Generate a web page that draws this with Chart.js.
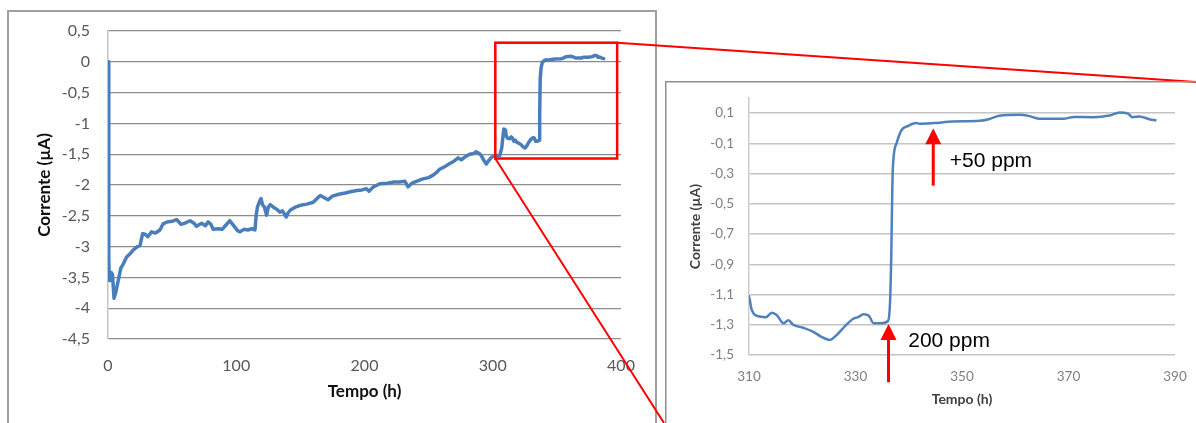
<!DOCTYPE html>
<html>
<head>
<meta charset="utf-8">
<script src="https://cdn.jsdelivr.net/npm/chart.js@4"></script>
<style>
  html, body { margin: 0; padding: 0; background: #fff; }
  #pagina { position: relative; width: 1196px; height: 423px; overflow: hidden; background: #fff; }
  #caixaGeral { position: absolute; left: 0; top: 0; width: 1196px; height: 423px; }
  #caixaZoom { position: absolute; left: 665px; top: 81px; width: 531px; height: 342px; }
</style>
</head>
<body>
<div id="pagina">
  <div id="caixaGeral"><canvas id="geral"></canvas></div>
  <div id="caixaZoom"><canvas id="zoom"></canvas></div>
</div>
<script>
// ## dados ##########################################################
const tempo = [
  0, 0.6, 1.0, 1.8, 2.5, 3.5, 4.7, 6, 8, 10, 12, 14.5, 17, 20, 23, 25, 27, 29, 31, 34,
  37, 40.5, 43, 46, 50, 53.5, 57, 60, 64, 67, 69, 73, 76, 78, 80, 82, 86, 89, 92, 95,
  98, 101, 103, 106, 109, 112, 114.6, 115.5, 116.5, 118.5, 119.3, 120.5, 122, 123.7, 125, 126.5, 129, 132, 134, 136,
  139, 140.5, 142, 146, 150, 155, 160, 163, 165.5, 168, 171.5, 175, 180, 185, 189, 194, 198, 201.5, 203.5, 207,
  212, 218, 223, 227.5, 231.5, 234, 237, 242, 245.5, 250, 253.5, 256, 258.8, 262, 266.5, 270, 273, 275.5, 278, 282,
  285, 287, 289.5, 291, 293, 295, 297, 299, 301.6, 305.5, 307, 308.6, 309.5, 310, 310.5, 311.4, 313.2, 314.3, 315.2, 316.5,
  317.4, 318.3, 320.2, 322, 323.6, 325.2, 326.4, 328, 329.6, 330.5, 331.5, 332.5, 333.4, 334.7, 336.1, 336.5, 336.7, 337, 337.7, 338.6,
  339.9, 341.4, 342, 344.6, 348.3, 353.3, 355, 357, 360.8, 362.7, 364.6, 369, 371, 374.6, 377.7, 379.6, 381.2, 382, 383.3, 385.2,
  386.5
];
const corrente = [
  0, -3.2, -3.55, -3.55, -3.42, -3.45, -3.84, -3.75, -3.55, -3.35, -3.28, -3.17, -3.12, -3.05, -3.0, -2.98, -2.79, -2.8, -2.84, -2.76,
  -2.78, -2.73, -2.63, -2.6, -2.59, -2.56, -2.64, -2.62, -2.58, -2.62, -2.67, -2.62, -2.66, -2.6, -2.63, -2.72, -2.71, -2.72, -2.65, -2.58,
  -2.66, -2.74, -2.76, -2.72, -2.73, -2.71, -2.73, -2.5, -2.36, -2.25, -2.22, -2.32, -2.36, -2.49, -2.36, -2.32, -2.36, -2.4, -2.44, -2.42,
  -2.52, -2.45, -2.41, -2.36, -2.33, -2.31, -2.28, -2.22, -2.17, -2.2, -2.24, -2.18, -2.15, -2.13, -2.11, -2.09, -2.08, -2.06, -2.1, -2.03,
  -1.98, -1.97, -1.95, -1.95, -1.94, -2.03, -1.97, -1.93, -1.9, -1.88, -1.84, -1.8, -1.74, -1.71, -1.65, -1.61, -1.56, -1.59, -1.55, -1.5,
  -1.49, -1.46, -1.49, -1.52, -1.6, -1.66, -1.6, -1.55, -1.52, -1.52, -1.4, -1.09, -1.1, -1.115, -1.2, -1.24, -1.25, -1.22, -1.235, -1.29,
  -1.27, -1.3, -1.32, -1.345, -1.38, -1.4, -1.37, -1.31, -1.26, -1.25, -1.23, -1.24, -1.29, -1.29, -1.275, -1.14, -0.87, -0.275, -0.1, -0.015,
  0.016, 0.034, 0.03, 0.034, 0.044, 0.049, 0.06, 0.082, 0.089, 0.08, 0.062, 0.062, 0.075, 0.073, 0.084, 0.104, 0.097, 0.073, 0.078, 0.06,
  0.051
];

// ticks
const ticksTempoGeral = [0, 100, 200, 300, 400];
const ticksCorrenteGeral = [0.5, 0, -0.5, -1, -1.5, -2, -2.5, -3, -3.5, -4, -4.5];
const ticksTempoZoom = [310, 330, 350, 370, 390];
const ticksCorrenteZoom = [0.1, -0.1, -0.3, -0.5, -0.7, -0.9, -1.1, -1.3, -1.5];

// retangulo vermelho no grafico geral (tempo, corrente)
const zonaTempo = [302, 397];
const zonaCorrente = [0.31, -1.57];

// setas + textos no zoom
const setaTempo = [336.2, 344.6];
const setaPonta = [-1.295, 0.0];
const setaBase = [-1.68, -0.38];
const rotuloTexto = ['200 ppm', '+50 ppm'];
const rotuloTempo = [339.9, 347.7];
const rotuloCorrente = [-1.445, -0.258];

// ## utilidades #####################################################
const AZUL = '#4a7ebb';
const VERMELHO = '#ff0000';
Chart.defaults.font.family = 'Lato, "Noto Sans", sans-serif';

/** 0.5 -> "0,5" */
function fmtPT(v) {
  const n = Math.round(v * 10) / 10;
  return String(n).replace('.', ',');
}

function pontos(filtro) {
  const out = [];
  tempo.forEach((t, i) => { if (!filtro || filtro(t)) out.push({ x: t, y: corrente[i] }); });
  return out;
}

/** fixa largura/altura de um eixo e tira o padding automatico */
function fixa(tam) {
  return function (scale) {
    if (scale.isHorizontal()) scale.height = tam; else scale.width = tam;
    scale.paddingLeft = scale.paddingRight = scale.paddingTop = scale.paddingBottom = 0;
  };
}

function usaTicks(lista) {
  return function (scale) { scale.ticks = lista.map(v => ({ value: v })); };
}

// ## plugins ########################################################
const geralExtras = {
  id: 'geralExtras',
  beforeDraw(chart) {
    const c = chart.ctx;
    c.save();
    c.strokeStyle = '#a0a0a0';
    c.lineWidth = 2;
    c.strokeRect(8, 11, 648, 500);
    c.restore();
  },
  afterDraw(chart) {
    const { ctx: c, scales: { x, y } } = chart;
    const x0 = x.getPixelForValue(zonaTempo[0]), x1 = x.getPixelForValue(zonaTempo[1]);
    const y0 = y.getPixelForValue(zonaCorrente[0]), y1 = y.getPixelForValue(zonaCorrente[1]);
    c.save();
    c.strokeStyle = VERMELHO;
    c.lineWidth = 2.5;
    c.strokeRect(x0, y0, x1 - x0, y1 - y0);
    // linhas de ligacao ate o grafico ampliado
    c.lineWidth = 2;
    c.beginPath();
    c.moveTo(x1, y0); c.lineTo(1196, 82);
    c.moveTo(x0, y1); c.lineTo(664, 423);
    c.stroke();
    c.restore();
  }
};

const zoomExtras = {
  id: 'zoomExtras',
  beforeDraw(chart) {
    const c = chart.ctx;
    c.save();
    c.strokeStyle = '#909090';
    c.lineWidth = 1.5;
    c.strokeRect(0.75, 0.75, chart.width + 20, chart.height + 20);
    c.restore();
  },
  afterDraw(chart) {
    const { ctx: c, scales: { x, y } } = chart;
    c.save();
    c.strokeStyle = c.fillStyle = VERMELHO;
    setaTempo.forEach((t, i) => {
      const px = x.getPixelForValue(t);
      const tip = y.getPixelForValue(setaPonta[i]);
      const base = y.getPixelForValue(setaBase[i]);
      c.lineWidth = 3;
      c.beginPath(); c.moveTo(px, base); c.lineTo(px, tip + 12); c.stroke();
      c.beginPath();
      c.moveTo(px, tip); c.lineTo(px - 8, tip + 16); c.lineTo(px + 8, tip + 16);
      c.closePath(); c.fill();
    });
    c.fillStyle = '#000';
    c.font = '21px "Liberation Sans", Arial, sans-serif';
    c.textBaseline = 'alphabetic';
    c.textAlign = 'left';
    rotuloTexto.forEach((s, i) => {
      c.fillText(s, x.getPixelForValue(rotuloTempo[i]), y.getPixelForValue(rotuloCorrente[i]));
    });
    c.restore();
  }
};

// ## grafico geral ##################################################
new Chart(document.getElementById('geral'), {
  type: 'line',
  data: {
    datasets: [{
      data: pontos(),
      borderColor: AZUL,
      borderWidth: 3.5,
      pointRadius: 0,
      tension: 0,
      borderJoinStyle: 'round',
      borderCapStyle: 'round'
    }]
  },
  options: {
    responsive: true,
    maintainAspectRatio: false,
    animation: false,
    layout: { padding: { left: 0, top: 31, right: 575, bottom: 0 } },
    plugins: { legend: { display: false }, tooltip: { enabled: false } },
    scales: {
      x: {
        type: 'linear', min: 0, max: 400,
        afterBuildTicks: usaTicks(ticksTempoGeral),
        afterFit: fixa(84),
        grid: { display: false },
        border: { display: false },
        ticks: { padding: 9, color: '#595959', font: { size: 16 }, callback: v => String(v) },
        title: { display: true, text: 'Tempo (h)', color: '#111', font: { size: 17, weight: 'bold' }, padding: { top: 0, bottom: 21 } }
      },
      y: {
        min: -4.5, max: 0.5,
        afterBuildTicks: usaTicks(ticksCorrenteGeral),
        afterFit: fixa(108),
        grid: { color: '#8c8c8c', lineWidth: 1.3, drawTicks: false },
        border: { display: true, color: '#c4c4c4', width: 1.5 },
        ticks: { padding: 18, color: '#595959', font: { size: 16 }, callback: fmtPT },
        title: { display: true, text: 'Corrente (µA)', color: '#111', font: { size: 17, weight: 'bold' }, padding: { top: 34, bottom: 0 } }
      }
    }
  },
  plugins: [geralExtras]
});

// ## grafico ampliado ###############################################
new Chart(document.getElementById('zoom'), {
  type: 'line',
  data: {
    datasets: [{
      data: pontos(t => t >= 309),
      borderColor: '#4f81bd',
      borderWidth: 2.5,
      pointRadius: 0,
      cubicInterpolationMode: 'monotone',
      borderJoinStyle: 'round'
    }]
  },
  options: {
    responsive: true,
    maintainAspectRatio: false,
    animation: false,
    layout: { padding: { left: 0, top: 17, right: 21, bottom: 0 } },
    plugins: { legend: { display: false }, tooltip: { enabled: false } },
    scales: {
      x: {
        type: 'linear', min: 310, max: 390,
        afterBuildTicks: usaTicks(ticksTempoZoom),
        afterFit: fixa(68),
        grid: { display: false },
        border: { display: false },
        ticks: { padding: 6, color: '#7f7f7f', font: { size: 13.5 }, callback: v => String(v) },
        title: { display: true, text: 'Tempo (h)', color: '#404040', font: { size: 14, weight: 'bold' }, padding: { top: 0, bottom: 15.6 } }
      },
      y: {
        min: -1.5, max: 0.2,
        afterBuildTicks: usaTicks(ticksCorrenteZoom),
        afterFit: fixa(84),
        grid: { color: '#c4c4c4', lineWidth: 1.5, drawTicks: false },
        border: { display: true, color: '#cccccc', width: 1.5 },
        ticks: { padding: 15, color: '#7f7f7f', font: { size: 13.5 }, callback: fmtPT },
        title: { display: true, text: 'Corrente (µA)', color: '#404040', font: { size: 14, weight: 'bold' }, padding: { top: 21.6, bottom: 0 } }
      }
    }
  },
  plugins: [zoomExtras]
});
</script>
</body>
</html>
